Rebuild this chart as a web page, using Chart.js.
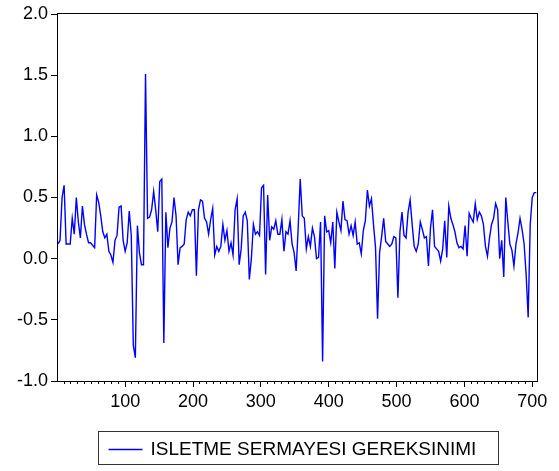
<!DOCTYPE html>
<html>
<head>
<meta charset="utf-8">
<script src="https://cdn.jsdelivr.net/npm/chart.js@4.4.1/dist/chart.umd.min.js"></script>
<style>
  html, body { margin: 0; padding: 0; background: #fff; }
  #wrap { width: 559px; height: 471px; }
</style>
</head>
<body>
<div id="wrap"><canvas id="isletmeChart" width="559" height="471"></canvas></div>
<script>
// Series: ISLETME SERMAYESI GEREKSINIMI, read every 3rd observation (1, 4, 7, ... 706)
const seriesName = 'ISLETME SERMAYESI GEREKSINIMI';
const obsStart = 1;
const obsStep = 3;
const values = [
    0.12, 0.15, 0.50, 0.60, 0.12, 0.12, 0.12, 0.33, 0.20, 0.50,
    0.30, 0.17, 0.43, 0.28, 0.20, 0.13, 0.13, 0.11, 0.09, 0.52,
    0.46, 0.35, 0.22, 0.17, 0.20, 0.06, 0.03, -0.03, 0.15, 0.19,
    0.42, 0.43, 0.15, 0.06, 0.13, 0.39, 0.19, -0.71, -0.81, 0.27,
    0.05, -0.05, -0.05, 1.51, 0.33, 0.34, 0.40, 0.55, 0.40, 0.22,
    0.63, 0.65, -0.69, 0.38, 0.09, 0.25, 0.30, 0.50, 0.35, -0.05,
    0.09, 0.10, 0.12, 0.32, 0.38, 0.35, 0.40, 0.40, -0.14, 0.40,
    0.48, 0.47, 0.33, 0.30, 0.20, 0.32, 0.41, 0.03, 0.10, 0.06,
    0.10, 0.28, 0.15, 0.23, 0.06, 0.13, 0.03, 0.40, 0.49, -0.05,
    0.08, 0.35, 0.38, 0.31, -0.17, 0.00, 0.28, 0.20, 0.22, 0.19,
    0.58, 0.60, -0.13, 0.52, 0.15, 0.26, 0.24, 0.31, 0.20, 0.20,
    0.32, 0.06, 0.22, 0.20, 0.31, 0.12, 0.05, -0.10, 0.25, 0.65,
    0.35, 0.33, 0.08, 0.18, 0.10, 0.25, 0.18, 0.00, 0.01, 0.30,
    -0.84, 0.35, 0.22, 0.23, 0.13, 0.30, -0.08, 0.38, 0.30, 0.23,
    0.47, 0.32, 0.31, 0.20, 0.27, 0.19, 0.30, 0.12, 0.13, 0.04,
    0.23, 0.31, 0.56, 0.43, 0.49, 0.28, 0.09, -0.49, 0.05, 0.18,
    0.33, 0.14, 0.12, 0.10, 0.12, 0.18, 0.17, -0.32, 0.22, 0.38,
    0.19, 0.17, 0.38, 0.48, 0.28, 0.10, 0.06, 0.12, 0.30, 0.24,
    0.17, 0.18, -0.06, 0.25, 0.40, 0.10, 0.08, 0.06, -0.02, 0.08,
    0.31, 0.01, 0.43, 0.33, 0.28, 0.22, 0.13, 0.09, 0.10, 0.08,
    0.27, 0.02, 0.37, 0.33, 0.30, 0.45, 0.32, 0.38, 0.35, 0.28,
    0.10, 0.02, 0.17, 0.28, 0.33, 0.45, 0.40, 0.00, 0.15, -0.15,
    0.50, 0.30, 0.12, 0.07, -0.06, 0.12, 0.21, 0.33, 0.24, 0.12,
    -0.13, -0.48, 0.28, 0.50, 0.54, 0.54
];

// Axis ranges and tick labels
const xMin = 1;
const xMax = 707;
const xTickValues = [100, 200, 300, 400, 500, 600, 700];
const xMinorStep = 10;
const yMin = -1;
const yMax = 2;
const yTickValues = [-1.0, -0.5, 0.0, 0.5, 1.0, 1.5, 2.0];

const points = values.map((v, i) => ({ x: obsStart + i * obsStep, y: v }));

const minorTicks = [];
for (let t = xMinorStep; t <= xMax; t += xMinorStep) minorTicks.push({ value: t });

Chart.defaults.font.family = '"Liberation Sans", Arial, sans-serif';
Chart.defaults.font.size = 18;
Chart.defaults.color = '#000';

// frame around the plot + EViews style legend box underneath
const frameAndLegend = {
    id: 'frameAndLegend',
    afterDraw(chart) {
        const ctx = chart.ctx;
        const a = chart.chartArea;
        ctx.save();
        ctx.strokeStyle = '#000';
        ctx.lineWidth = 1;
        ctx.strokeRect(Math.round(a.left) - 0.5, Math.round(a.top) - 0.5,
            Math.round(a.right - a.left) + 1, Math.round(a.bottom - a.top) + 1);

        // legend
        const cx = (a.left + a.right) / 2;
        ctx.font = '19px "Liberation Sans", Arial, sans-serif';
        const textW = ctx.measureText(seriesName).width;
        const boxW = 10 + 34 + 8 + textW + 22;
        const bx = Math.round(cx - boxW / 2) + 0.5;
        const by = 431.5;
        ctx.strokeStyle = '#333';
        ctx.strokeRect(bx, by, Math.round(boxW), 33);
        ctx.strokeStyle = '#0000ff';
        ctx.lineWidth = 1.4;
        ctx.beginPath();
        ctx.moveTo(bx + 10, by + 18);
        ctx.lineTo(bx + 44, by + 18);
        ctx.stroke();
        ctx.fillStyle = '#000';
        ctx.textBaseline = 'middle';
        ctx.textAlign = 'left';
        ctx.fillText(seriesName, bx + 52, by + 18);
        ctx.restore();
    }
};

const ctx = document.getElementById('isletmeChart').getContext('2d');
const isletmeChart = new Chart(ctx, {
    type: 'line',
    data: {
        datasets: [{
            label: seriesName,
            data: points,
            borderColor: '#0000ff',
            borderWidth: 1.4,
            pointRadius: 0,
            tension: 0,
            fill: false
        }]
    },
    options: {
        responsive: false,
        animation: false,
        devicePixelRatio: 1,
        layout: { padding: { top: 14, right: 22, left: 0, bottom: 0 } },
        plugins: {
            legend: { display: false },
            tooltip: { enabled: false }
        },
        scales: {
            x: {
                type: 'linear',
                position: 'bottom',
                min: xMin,
                max: xMax,
                afterBuildTicks: s => { s.ticks = xTickValues.map(v => ({ value: v })); },
                afterFit: s => { s.height = 90; },
                grid: { drawOnChartArea: false, drawTicks: true, tickLength: 6, color: '#000', lineWidth: 1 },
                border: { display: false },
                ticks: { padding: 4, autoSkip: false, maxRotation: 0, callback: v => String(v) }
            },
            xMinor: {
                type: 'linear',
                axis: 'x',
                position: { y: yMin },
                min: xMin,
                max: xMax,
                afterBuildTicks: s => { s.ticks = minorTicks.slice(); },
                afterFit: s => { s.height = 0; },
                grid: { drawOnChartArea: false, drawTicks: true, tickLength: 3, color: '#000', lineWidth: 1 },
                border: { display: false },
                ticks: { display: false, autoSkip: false }
            },
            y: {
                min: yMin,
                max: yMax,
                afterBuildTicks: s => { s.ticks = yTickValues.map(v => ({ value: v })); },
                afterFit: s => { s.width = 58; },
                grid: { drawOnChartArea: false, drawTicks: true, tickLength: 7, color: '#000', lineWidth: 1 },
                border: { display: false },
                ticks: { padding: 3, callback: v => Number(v).toFixed(1) }
            }
        }
    },
    plugins: [frameAndLegend]
});
</script>
</body>
</html>
